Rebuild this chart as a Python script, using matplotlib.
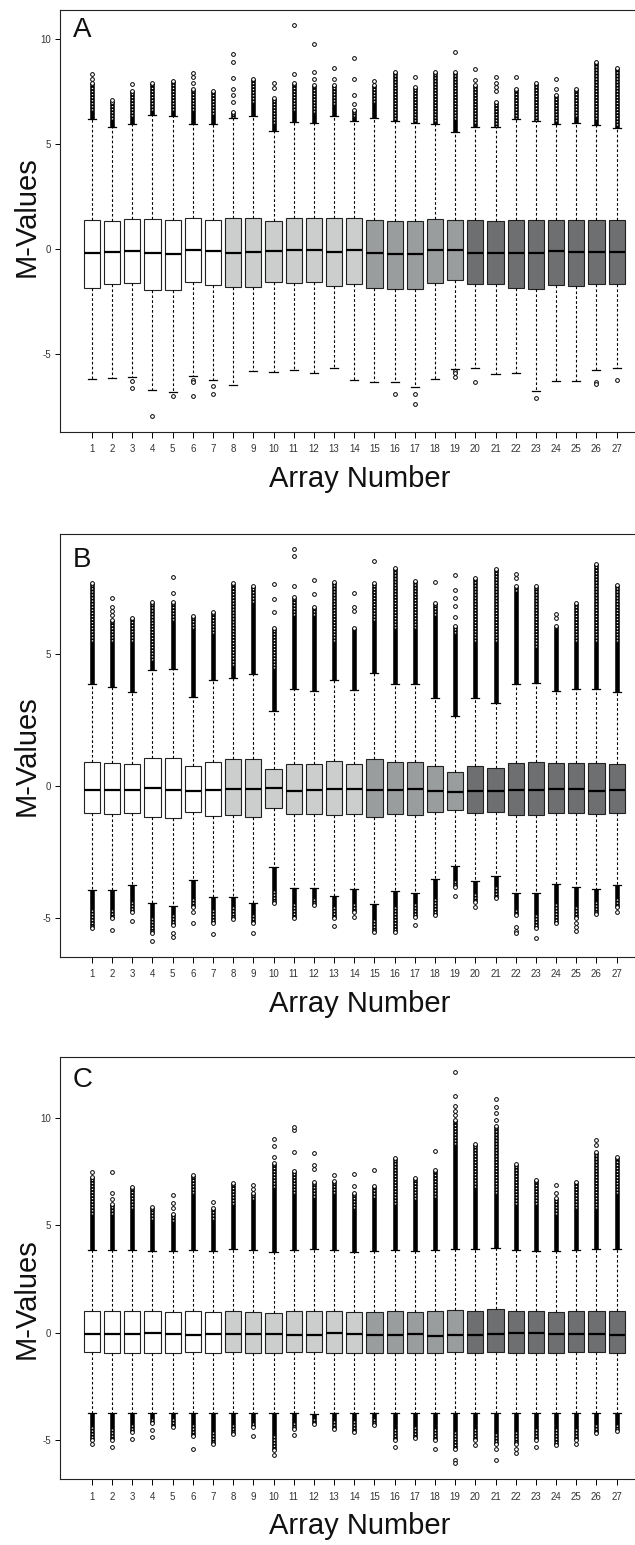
import matplotlib
matplotlib.use("Agg")
import matplotlib.pyplot as plt

plt.rcParams['font.family'] = ['Liberation Sans', 'DejaVu Sans']

W, H = 635, 1545

arrays = list(range(1, 28))
tick_labels = [str(i) for i in arrays]
box_colors = ['#ffffff'] * 7 + ['#cccece'] * 7 + ['#9a9d9e'] * 5 + ['#6e6f71'] * 8

# ---- panel A ----
a_q3 = [1.36, 1.33, 1.42, 1.42, 1.39, 1.46, 1.39, 1.47, 1.47, 1.33, 1.47, 1.46, 1.47, 1.46,
        1.39, 1.34, 1.34, 1.41, 1.36, 1.38, 1.34, 1.38, 1.38, 1.36, 1.36, 1.38, 1.38]
a_q1 = [-1.87, -1.66, -1.61, -1.93, -1.95, -1.58, -1.69, -1.80, -1.80, -1.55, -1.61, -1.58, -1.77, -1.66,
        -1.87, -1.88, -1.91, -1.63, -1.49, -1.66, -1.66, -1.84, -1.91, -1.71, -1.74, -1.66, -1.65]
a_med = [-0.19, -0.13, -0.09, -0.19, -0.22, -0.03, -0.09, -0.19, -0.16, -0.09, -0.05, -0.05, -0.14, -0.06,
         -0.19, -0.21, -0.21, -0.06, -0.05, -0.17, -0.17, -0.17, -0.17, -0.09, -0.13, -0.13, -0.14]
a_whi = [6.19, 5.78, 5.93, 6.38, 6.34, 5.95, 5.95, 6.22, 6.34, 5.59, 6.04, 5.98, 6.34, 6.09,
         6.23, 6.09, 5.98, 5.92, 5.55, 5.81, 5.79, 6.19, 6.09, 5.93, 5.98, 5.89, 5.73]
a_wlo = [-6.17, -6.11, -6.06, -6.71, -6.79, -6.04, -6.23, -6.47, -5.78, -5.84, -5.76, -5.90, -5.63, -6.22,
         -6.30, -6.33, -6.53, -6.16, -5.68, -5.65, -5.95, -5.87, -6.72, -6.27, -6.28, -5.76, -5.63]
a_up_solid = [6.6, 6.2, 6.3, 6.6, 6.6, 6.6, 6.4, 6.25, 7.0, 6.0, 6.6, 6.5, 6.9, 6.3,
              7.0, 6.2, 6.1, 6.1, 6.2, 6.0, 5.8, 6.2, 6.1, 6.1, 6.3, 6.2, 5.9]
a_up_chain = [7.9, 7.0, 7.5, 7.9, 8.0, 7.6, 7.5, 6.5, 8.1, 7.2, 7.9, 7.8, 7.8, 6.6,
              7.8, 8.4, 7.7, 8.4, 8.4, 7.8, 7.0, 7.6, 7.9, 7.3, 7.6, 8.9, 8.6]
a_up_pts = [[8.1, 8.3], [7.1], [7.85], [], [], [7.9, 8.2, 8.35], [], [7.0, 7.3, 7.6, 8.15, 8.9, 9.25],
            [], [7.65, 7.9], [8.3, 10.65], [8.1, 8.4, 9.75], [8.1, 8.6], [6.9, 7.3, 8.1, 9.1], [8.0], [],
            [8.2], [], [9.35], [8.05, 8.55], [7.5, 7.7, 7.9, 8.2], [8.2], [], [7.6, 8.1], [], [], []]
a_lo_pts = [[], [], [-6.25, -6.6], [-7.94], [-6.98], [-6.2, -6.3, -7.0], [-6.52, -6.9], [], [], [], [], [],
            [], [], [], [-6.87], [-6.9, -7.36], [], [-5.8, -5.9, -6.1], [-6.33], [], [], [-7.09], [], [],
            [-6.33, -6.4], [-6.2]]

# ---- panel B ----
b_q3 = [0.90, 0.86, 0.82, 1.08, 1.08, 0.77, 0.93, 1.01, 1.04, 0.65, 0.82, 0.82, 0.95, 0.84,
        1.03, 0.90, 0.90, 0.75, 0.54, 0.75, 0.70, 0.89, 0.90, 0.86, 0.86, 0.86, 0.85]
b_q1 = [-1.04, -1.08, -1.01, -1.17, -1.20, -1.00, -1.14, -1.10, -1.17, -0.85, -1.06, -1.06, -1.12, -1.08,
        -1.19, -1.08, -1.10, -1.00, -0.91, -1.01, -0.98, -1.10, -1.12, -1.01, -1.04, -1.08, -1.01]
b_med = [-0.14, -0.16, -0.16, -0.09, -0.14, -0.18, -0.14, -0.10, -0.10, -0.06, -0.18, -0.16, -0.13, -0.13,
         -0.14, -0.14, -0.13, -0.18, -0.22, -0.19, -0.20, -0.14, -0.14, -0.10, -0.11, -0.19, -0.14]
b_whi = [3.87, 3.75, 3.56, 4.41, 4.45, 3.37, 4.03, 4.09, 4.26, 2.86, 3.68, 3.62, 4.03, 3.65,
         4.31, 3.87, 3.87, 3.33, 2.66, 3.33, 3.14, 3.87, 3.93, 3.61, 3.69, 3.69, 3.59]
b_wlo = [-3.95, -3.95, -3.76, -4.46, -4.56, -3.57, -4.21, -4.23, -4.44, -3.07, -3.89, -3.87, -4.18, -3.92,
         -4.50, -3.98, -4.08, -3.55, -3.03, -3.60, -3.41, -4.08, -4.08, -3.74, -3.85, -3.92, -3.76]
b_up_solid = [5.5, 5.5, 5.5, 4.8, 6.3, 6.0, 5.8, 4.6, 7.0, 4.5, 6.5, 6.5, 5.5, 6.0,
              6.3, 6.0, 6.0, 6.5, 5.8, 5.5, 5.5, 7.4, 5.3, 6.0, 5.5, 5.5, 5.5]
b_up_chain = [7.7, 6.3, 6.4, 7.0, 7.0, 6.45, 6.6, 7.7, 7.6, 6.0, 7.2, 6.8, 7.75, 6.0,
              7.7, 8.3, 7.8, 6.95, 6.1, 7.9, 8.25, 7.6, 7.6, 6.1, 6.95, 8.45, 7.65]
b_up_pts = [[], [6.5, 6.65, 6.8, 7.15], [], [], [7.35, 7.93], [], [], [], [], [6.6, 7.1, 7.67],
            [7.6, 8.75, 9.0], [7.3, 7.85], [], [6.65, 6.8, 7.35], [8.55], [], [], [7.77],
            [6.44, 6.84, 7.14, 7.45, 8.02], [], [], [7.9, 8.05], [], [6.4, 6.55], [], [], []]
b_lo_solid = [-4.7, -4.7, -4.4, -5.0, -4.9, -4.3, -4.7, -4.6, -4.9, -4.0, -4.5, -4.3, -4.6, -4.5,
              -5.1, -4.6, -4.5, -4.3, -3.6, -4.1, -3.85, -4.7, -4.9, -4.5, -4.6, -4.4, -4.3]
b_lo_chain = [-5.4, -5.0, -4.8, -5.6, -5.3, -4.6, -5.2, -5.07, -5.2, -4.46, -5.0, -4.52, -5.0, -4.8,
              -5.56, -5.54, -4.97, -4.91, -3.85, -4.4, -4.27, -4.9, -5.4, -5.2, -5.0, -4.87, -4.6]
b_lo_pts = [[], [-5.48], [-5.15], [-5.89], [-5.6, -5.73], [-4.8, -5.2], [-5.63], [], [-5.58], [], [], [],
            [-5.32], [-4.97], [], [], [-5.29], [], [-4.18], [-4.59], [], [-5.37, -5.5, -5.6], [-5.77], [],
            [-5.2, -5.37, -5.5], [], [-4.78]]

# ---- panel C ----
c_q3 = [1.01, 1.01, 1.02, 0.99, 0.96, 1.01, 0.96, 1.01, 0.98, 0.93, 0.99, 1.02, 1.01, 0.95,
        0.98, 1.01, 0.96, 1.01, 1.04, 1.01, 1.09, 1.01, 0.99, 0.96, 1.01, 1.01, 1.01]
c_q1 = [-0.91, -0.93, -0.93, -0.93, -0.95, -0.91, -0.93, -0.91, -0.93, -0.96, -0.91, -0.91, -0.93, -0.96,
        -0.93, -0.93, -0.93, -0.93, -0.90, -0.93, -0.88, -0.93, -0.93, -0.93, -0.91, -0.91, -0.93]
c_med = [-0.06, -0.06, -0.08, -0.03, -0.06, -0.09, -0.06, -0.05, -0.05, -0.05, -0.12, -0.11, -0.03, -0.06,
         -0.11, -0.09, -0.08, -0.16, -0.12, -0.12, -0.06, -0.03, -0.03, -0.06, -0.06, -0.06, -0.11]
c_whi = [3.85, 3.85, 3.85, 3.80, 3.80, 3.85, 3.80, 3.88, 3.85, 3.77, 3.85, 3.88, 3.85, 3.77,
         3.81, 3.85, 3.80, 3.85, 3.91, 3.88, 3.92, 3.85, 3.81, 3.80, 3.85, 3.88, 3.88]
c_wlo = [-3.75, -3.75, -3.75, -3.75, -3.75, -3.75, -3.75, -3.75, -3.75, -3.75, -3.75, -3.78, -3.75, -3.75,
         -3.75, -3.75, -3.75, -3.75, -3.75, -3.75, -3.75, -3.72, -3.75, -3.75, -3.75, -3.75, -3.75]
c_up_solid = [5.5, 5.5, 5.8, 5.3, 5.2, 6.5, 5.3, 6.0, 6.2, 6.8, 6.5, 6.3, 6.5, 5.8,
              6.3, 6.0, 6.2, 6.3, 8.8, 6.8, 6.5, 6.0, 6.0, 5.5, 5.8, 5.8, 6.5]
c_up_chain = [7.26, 6.0, 6.79, 5.86, 5.5, 7.33, 5.8, 6.95, 6.5, 7.88, 7.54, 7.02, 7.05, 6.48,
              6.84, 8.14, 7.21, 7.57, 9.9, 8.8, 9.6, 7.84, 7.1, 6.25, 7.02, 8.4, 8.19]
c_up_pts = [[7.49], [6.2, 6.48, 7.46], [], [], [5.8, 6.02, 6.39], [], [6.09], [], [6.7, 6.87],
            [8.19, 8.68, 9.01], [8.42, 9.43, 9.58], [7.6, 7.8, 8.37], [7.33], [6.82, 7.38], [7.57], [], [],
            [8.45], [10.12, 10.33, 10.54, 11.02, 12.11], [], [9.9, 10.2, 10.48, 10.87], [], [], [6.5, 6.87],
            [], [8.73, 8.96], []]
c_lo_solid = [-4.4, -4.5, -4.3, -4.0, -4.0, -4.3, -4.6, -4.3, -4.2, -4.8, -4.2, -4.0, -4.1, -4.1,
              -4.0, -4.5, -4.4, -4.5, -4.6, -4.5, -4.7, -4.6, -4.5, -4.5, -4.5, -4.3, -4.3]
c_lo_chain = [-5.0, -5.0, -4.6, -4.2, -4.4, -4.8, -5.18, -4.71, -4.4, -5.46, -4.5, -4.25, -4.5, -4.6,
              -4.29, -5.0, -4.91, -5.0, -5.4, -5.0, -5.2, -5.2, -5.0, -5.22, -5.0, -4.68, -4.57]
c_lo_pts = [[-5.18], [-5.3], [-4.93], [-4.53, -4.84], [], [-5.43], [], [], [-4.79], [-5.69], [-4.74], [],
            [], [], [], [-5.3], [], [-5.41], [-5.92, -6.05], [-5.22], [-5.4, -5.92], [-5.4, -5.58],
            [-5.33], [], [-5.18], [], []]

# frame positions in pixels (top, bottom) and y limits
panels = [
    dict(label='A', top=10, bottom=432, ylim=(-8.69, 11.36), yticks=[-5, 0, 5, 10],
         label_top=17, ylab_y=217,
         q1=a_q1, med=a_med, q3=a_q3, wlo=a_wlo, whi=a_whi,
         up_solid=a_up_solid, up_chain=a_up_chain, up_pts=a_up_pts,
         lo_solid=None, lo_chain=None, lo_pts=a_lo_pts),
    dict(label='B', top=534.3, bottom=956.7, ylim=(-6.49, 9.57), yticks=[-5, 0, 5],
         label_top=547, ylab_y=756,
         q1=b_q1, med=b_med, q3=b_q3, wlo=b_wlo, whi=b_whi,
         up_solid=b_up_solid, up_chain=b_up_chain, up_pts=b_up_pts,
         lo_solid=b_lo_solid, lo_chain=b_lo_chain, lo_pts=b_lo_pts),
    dict(label='C', top=1057.3, bottom=1479.3, ylim=(-6.82, 12.81), yticks=[-5, 0, 5, 10],
         label_top=1067, ylab_y=1299,
         q1=c_q1, med=c_med, q3=c_q3, wlo=c_wlo, whi=c_whi,
         up_solid=c_up_solid, up_chain=c_up_chain, up_pts=c_up_pts,
         lo_solid=c_lo_solid, lo_chain=c_lo_chain, lo_pts=c_lo_pts),
]

LEFT, RIGHT = 60, 648.5


def draw_band(ax, start, solid, chain):
    ax.vlines(arrays, start, chain, colors='black', linewidth=3.3, zorder=3)
    ax.vlines(arrays, solid, chain, colors='white', linewidth=1.0,
              linestyles=(0, (0.9, 1.3)), zorder=4)
    ax.plot(arrays, chain, 'o', ms=2.7, mfc='white', mec='black', mew=0.7, zorder=5)


def draw_points(ax, pts):
    xs, ys = [], []
    for x, vals in zip(arrays, pts):
        for v in vals:
            xs.append(x)
            ys.append(v)
    ax.plot(xs, ys, 'o', ms=2.7, mfc='white', mec='black', mew=0.7, zorder=5)


fig = plt.figure(figsize=(W / 100, H / 100), dpi=100)

for p in panels:
    ax = fig.add_axes([LEFT / W, 1 - p['bottom'] / H, (RIGHT - LEFT) / W, (p['bottom'] - p['top']) / H])
    stats = []
    for i in range(len(arrays)):
        stats.append(dict(med=p['med'][i], q1=p['q1'][i], q3=p['q3'][i],
                          whislo=p['wlo'][i], whishi=p['whi'][i], fliers=[]))
    bp = ax.bxp(stats, positions=arrays, widths=0.8, capwidths=0.4, patch_artist=True,
                showfliers=False,
                boxprops=dict(edgecolor='#222222', linewidth=0.8),
                whiskerprops=dict(color='black', linewidth=0.8, linestyle=(0, (2.4, 2.0))),
                capprops=dict(color='black', linewidth=0.9),
                medianprops=dict(color='black', linewidth=1.6))
    for patch, c in zip(bp['boxes'], box_colors):
        patch.set_facecolor(c)
    for cap in bp['caps']:
        cap.set_zorder(6)

    draw_band(ax, p['whi'], p['up_solid'], p['up_chain'])
    if p['lo_solid'] is not None:
        draw_band(ax, p['wlo'], p['lo_solid'], p['lo_chain'])
    draw_points(ax, p['up_pts'])
    draw_points(ax, p['lo_pts'])

    ax.set_xlim(-0.58, 28.58)
    ax.set_ylim(*p['ylim'])
    ax.set_xticks(arrays)
    ax.set_xticklabels(tick_labels)
    ax.set_yticks(p['yticks'])
    ax.set_yticklabels([str(t) for t in p['yticks']])
    ax.tick_params(axis='x', direction='out', length=4.3, width=0.7, pad=4.5,
                   labelsize=7, labelcolor='#333333')
    ax.tick_params(axis='y', direction='out', length=3.6, width=0.7, pad=3,
                   labelsize=7, labelcolor='#333333')
    for side in ['left', 'bottom', 'top']:
        ax.spines[side].set_color('#222222')
        ax.spines[side].set_linewidth(0.8)
    ax.spines['right'].set_visible(False)

    fig.text(73 / W, 1 - p['label_top'] / H, p['label'], fontsize=20, ha='left', va='top',
             color='#111111')
    fig.text(27 / W, 1 - p['ylab_y'] / H, 'M-Values', fontsize=21, rotation=90,
             ha='center', va='center', color='#111111')
    fig.text(360 / W, 1 - (p['bottom'] + 47) / H, 'Array Number', fontsize=21,
             ha='center', va='center', color='#111111')

fig.savefig('out.png', dpi=100)
